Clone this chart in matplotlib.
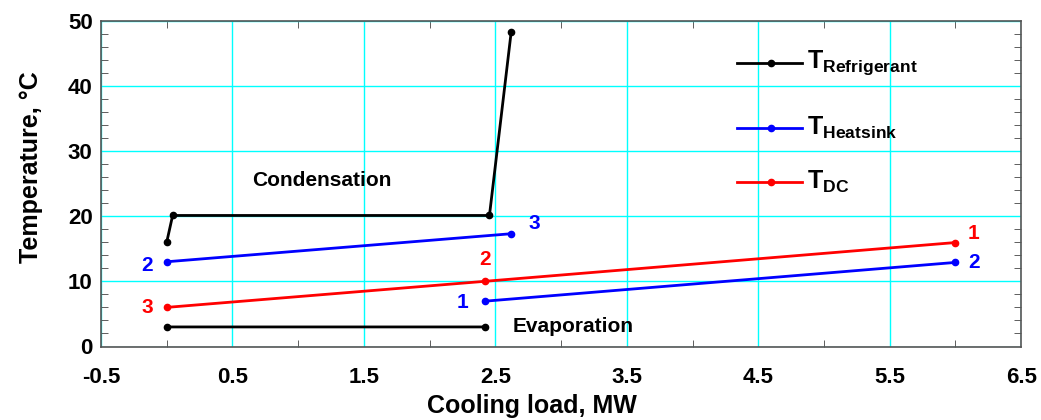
import numpy as np
import matplotlib.pyplot as plt
from matplotlib.ticker import MultipleLocator

plt.rcParams['font.family'] = 'Liberation Sans'
plt.rcParams['font.weight'] = 'bold'
plt.rcParams['axes.unicode_minus'] = False
plt.rcParams['mathtext.fontset'] = 'custom'
plt.rcParams['mathtext.rm'] = 'Liberation Sans:bold'
plt.rcParams['mathtext.it'] = 'Liberation Sans:bold'
plt.rcParams['mathtext.bf'] = 'Liberation Sans:bold'

# refrigerant: evaporation segment, then compression / condensation / subcooling
ref_x = [0.0, 2.42, np.nan, 2.62, 2.455, 0.045, 0.0]
ref_y = [3.0, 3.0, np.nan, 48.2, 20.1, 20.1, 16.0]

# heatsink: two separate segments
hs_x = [0.0, 2.62, np.nan, 2.42, 6.0]
hs_y = [13.0, 17.3, np.nan, 6.95, 12.9]

# DC
dc_x = [0.0, 2.42, 6.0]
dc_y = [6.0, 10.0, 15.95]

# point labels: (text, x, y, colour)
point_labels = [
    ('2', -0.15, 12.4, 'blue'),
    ('3', 2.8, 18.9, 'blue'),
    ('1', 2.25, 6.7, 'blue'),
    ('2', 6.14, 12.9, 'blue'),
    ('3', -0.15, 6.0, 'red'),
    ('2', 2.42, 13.4, 'red'),
    ('1', 6.14, 17.4, 'red'),
]

fig = plt.figure(figsize=(10.41, 4.2), dpi=100)
ax = fig.add_axes([0.097, 0.175, 0.884, 0.776])

ax.plot(ref_x, ref_y, color='black', lw=2, marker='o', ms=4.5)
ax.plot(hs_x, hs_y, color='blue', lw=2, marker='o', ms=4.5)
ax.plot(dc_x, dc_y, color='red', lw=2, marker='o', ms=4.5)

for txt, x, y, c in point_labels:
    ax.text(x, y, txt, color=c, fontsize=15, fontweight='bold', ha='center', va='center')

ax.text(1.18, 25.4, 'Condensation', fontsize=15, fontweight='bold', ha='center', va='center')
ax.text(3.09, 3.0, 'Evaporation', fontsize=15, fontweight='bold', ha='center', va='center')

# legend drawn by hand
legend_items = [('black', 'Refrigerant', 0.870), ('blue', 'Heatsink', 0.671), ('red', 'DC', 0.505)]
for c, name, yy in legend_items:
    ax.plot([0.691, 0.762], [yy, yy], color=c, lw=2, transform=ax.transAxes)
    ax.plot([0.728], [yy], color=c, marker='o', ms=4.5, transform=ax.transAxes)
    ax.text(0.767, yy, r'$\mathrm{T_{%s}}$' % name, fontsize=18, color='black',
            transform=ax.transAxes, va='center', ha='left')

ax.set_xlim(-0.5, 6.5)
ax.set_ylim(0, 50)
ax.set_xticks(np.arange(-0.5, 6.6, 1.0))
ax.set_xticks(np.arange(0, 6.1, 1.0), minor=True)
ax.yaxis.set_major_locator(MultipleLocator(10))
ax.yaxis.set_minor_locator(MultipleLocator(2))

ax.grid(True, which='major', color='cyan', lw=1)
ax.set_axisbelow(True)

ax.tick_params(which='major', length=0, labelsize=16)
ax.tick_params(axis='x', which='major', pad=15)
ax.tick_params(axis='y', which='major', pad=6)
ax.tick_params(which='minor', direction='in', top=True, right=True, length=5, color='#444444')
for lab in ax.get_xticklabels() + ax.get_yticklabels():
    lab.set_fontweight('bold')
for s in ax.spines.values():
    s.set_color('#555555')
    s.set_linewidth(1.2)

ax.set_xlabel('Cooling load, MW', fontsize=18, fontweight='bold')
ax.set_ylabel('Temperature, °C', fontsize=18, fontweight='bold')
ax.xaxis.set_label_coords(0.468, -0.145)
ax.yaxis.set_label_coords(-0.063, 0.55)

fig.savefig('out.png', dpi=100)
